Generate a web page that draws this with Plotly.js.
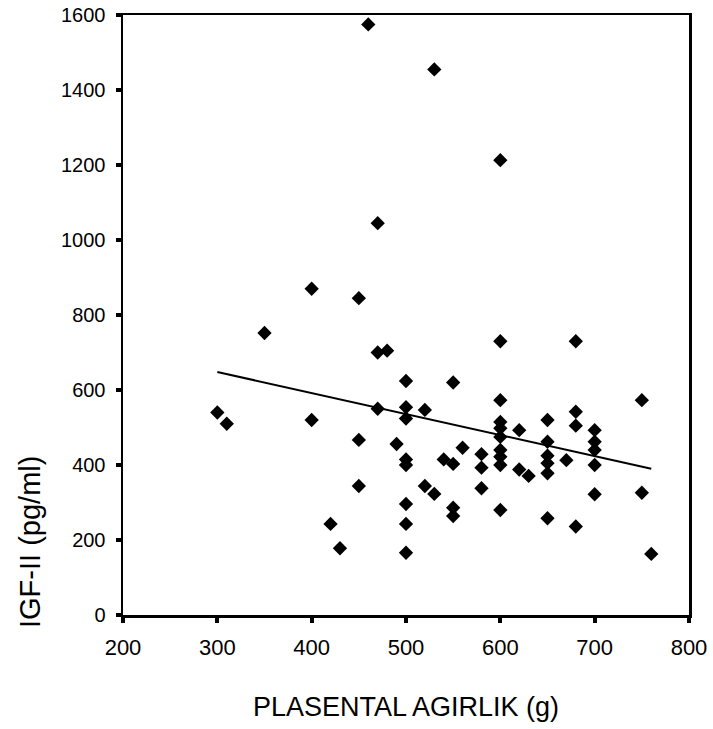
<!DOCTYPE html>
<html>
<head>
<meta charset="utf-8">
<script src="https://cdn.plot.ly/plotly-3.0.1.min.js"></script>
<style>html,body{margin:0;padding:0;background:#fff;}#chart{width:713px;height:729px;}</style>
</head>
<body>
<div id="chart"></div>
<script>
// Placental weight (g)
const placentalWeight = [300,310,350,400,400,420,430,450,450,450,460,470,470,470,480,490,
  500,500,500,500,500,500,500,500,520,520,530,530,540,550,550,550,550,560,580,580,580,
  600,600,600,600,600,600,600,600,600,600,620,620,630,650,650,650,650,650,650,670,
  680,680,680,680,700,700,700,700,700,750,750,760];
// IGF-II (pg/ml)
const igf2 = [540,510,752,870,520,243,178,845,467,344,1575,1045,700,550,705,456,
  624,554,524,415,400,296,243,166,547,344,1455,323,415,620,403,286,264,446,429,393,338,
  1213,730,573,515,498,475,440,422,400,280,493,388,371,520,462,425,405,378,258,413,
  730,542,505,236,493,462,440,400,322,573,326,163];
// Regression line end points
const fitX = [300, 760];
const fitY = [648, 390];

const xTickVals = [200,300,400,500,600,700,800];
const yTickVals = [0,200,400,600,800,1000,1200,1400,1600];

const traces = [
  {
    x: placentalWeight, y: igf2, type: 'scatter', mode: 'markers',
    marker: {symbol: 'diamond', size: 11, color: '#000'},
    hoverinfo: 'x+y', showlegend: false
  },
  {
    x: fitX, y: fitY, type: 'scatter', mode: 'lines',
    line: {color: '#000', width: 2}, showlegend: false
  }
];

const axisCommon = {
  showline: true, linecolor: '#000', linewidth: 2.5, mirror: true,
  showgrid: false, zeroline: false,
  ticks: 'outside', ticklen: 5, tickwidth: 4, tickcolor: '#000'
};

const layout = {
  width: 713, height: 729,
  margin: {l: 123, r: 24, t: 15, b: 114},
  paper_bgcolor: '#fff', plot_bgcolor: '#fff',
  font: {family: 'Liberation Sans, Arial, sans-serif', color: '#000'},
  xaxis: Object.assign({}, axisCommon, {
    range: [200, 800], tickvals: xTickVals, ticktext: xTickVals.map(String),
    tickfont: {size: 22, family: 'Liberation Sans, Arial, sans-serif', color: '#000'},
    ticklabelstandoff: 6
  }),
  yaxis: Object.assign({}, axisCommon, {
    range: [0, 1600], tickvals: yTickVals, ticktext: yTickVals.map(String),
    tickfont: {size: 20, family: 'Liberation Sans, Arial, sans-serif', color: '#000'},
    ticklabelstandoff: 6
  }),
  annotations: [
    {
      text: 'PLASENTAL AGIRLIK (g)', xref: 'paper', yref: 'paper',
      x: 0.5, y: (615 - 707) / 600, xanchor: 'center', yanchor: 'middle',
      showarrow: false, font: {size: 27, family: 'Liberation Sans, Arial, sans-serif', color: '#000'}
    },
    {
      text: 'IGF-II (pg/ml)', xref: 'paper', yref: 'paper', textangle: -90,
      x: (30 - 123) / 566, y: (615 - 542) / 600, xanchor: 'center', yanchor: 'middle',
      showarrow: false, font: {size: 29, family: 'Liberation Sans, Arial, sans-serif', color: '#000'}
    }
  ]
};

Plotly.newPlot('chart', traces, layout, {displayModeBar: false, staticPlot: true});
</script>
</body>
</html>
